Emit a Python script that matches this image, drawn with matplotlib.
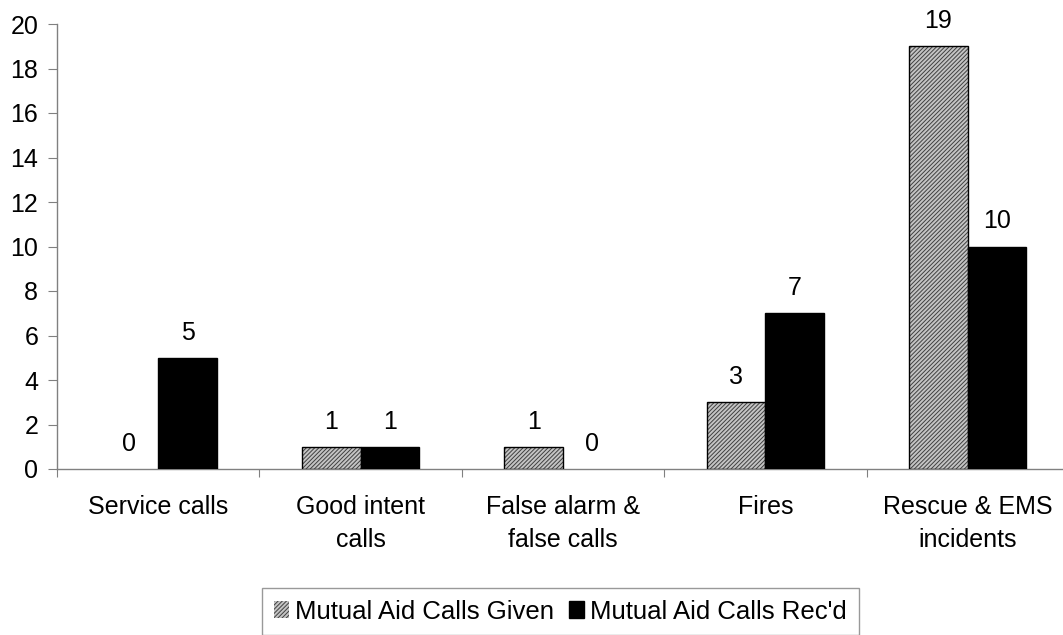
import matplotlib
matplotlib.use("Agg")
import matplotlib.pyplot as plt
import numpy as np
from matplotlib.legend_handler import HandlerTuple

categories = ["Service calls", "Good intent\ncalls", "False alarm &\nfalse calls", "Fires", "Rescue & EMS\nincidents"]
given = [0, 1, 1, 3, 19]
received = [5, 1, 0, 7, 10]
series_names = ["Mutual Aid Calls Given", "Mutual Aid Calls Rec'd"]
yticks = [0, 2, 4, 6, 8, 10, 12, 14, 16, 18, 20]

plt.rcParams['font.family'] = ['Liberation Sans', 'DejaVu Sans']
plt.rcParams['hatch.linewidth'] = 0.7

FS = 18
W, H = 1063, 635
fig = plt.figure(figsize=(W / 100, H / 100), dpi=100)
left, right, top, bottom = 57, 1069, 24, 469
ax = fig.add_axes([left / W, 1 - bottom / H, (right - left) / W, (bottom - top) / H])

x = np.arange(len(categories))
bw = 0.29
gray = '#808080'

lw_g = [1.0 if v > 0 else 0 for v in given]
lw_r = [1.0 if v > 0 else 0 for v in received]
hb = ax.bar(x - bw / 2, given, bw, facecolor='#c4c4c4', edgecolor='#404040', hatch='////////', linewidth=0, zorder=2)
ob = ax.bar(x - bw / 2, given, bw, fill=False, edgecolor='black', linewidth=lw_g, zorder=3)
rb = ax.bar(x + bw / 2, received, bw, facecolor='black', edgecolor='black', linewidth=lw_r, zorder=3)

for xi, v in zip(x - bw / 2, given):
    ax.annotate(str(v), (xi, v), xytext=(0, 9.5), textcoords='offset points', ha='center', va='bottom', fontsize=FS)
for xi, v in zip(x + bw / 2, received):
    ax.annotate(str(v), (xi, v), xytext=(0, 9.5), textcoords='offset points', ha='center', va='bottom', fontsize=FS)

ax.set_xlim(-0.5, len(categories) - 0.5)
ax.set_ylim(0, 20)
ax.set_yticks(yticks)
ax.set_yticklabels([str(t) for t in yticks], fontsize=FS)
ax.set_xticks(np.arange(len(categories) + 1) - 0.5)
ax.set_xticklabels([])
ax.set_xticks(x, minor=True)
ax.set_xticklabels(categories, minor=True, fontsize=FS, linespacing=1.45)
ax.tick_params(axis='x', which='minor', length=0, pad=19)
ax.tick_params(axis='x', which='major', length=6, color=gray, direction='out')
ax.tick_params(axis='y', length=6.5, color=gray, direction='out', pad=7)

for s in ['top', 'right']:
    ax.spines[s].set_visible(False)
for s in ['left', 'bottom']:
    ax.spines[s].set_color(gray)
    ax.spines[s].set_linewidth(1.0)

leg = fig.legend([(hb[0], ob[0]), rb[0]], series_names,
                 handler_map={tuple: HandlerTuple(ndivide=1)},
                 loc='upper left', bbox_to_anchor=(262 / W, 1 - 588 / H),
                 ncol=2, prop={'size': 18.5}, frameon=True, fancybox=False,
                 handlelength=0.6, handleheight=0.6, handletextpad=0.25,
                 columnspacing=0.55, borderpad=0.45, borderaxespad=0)
leg.get_frame().set_edgecolor(gray)
leg.get_frame().set_linewidth(1.0)

fig.savefig("out.png", dpi=100)
